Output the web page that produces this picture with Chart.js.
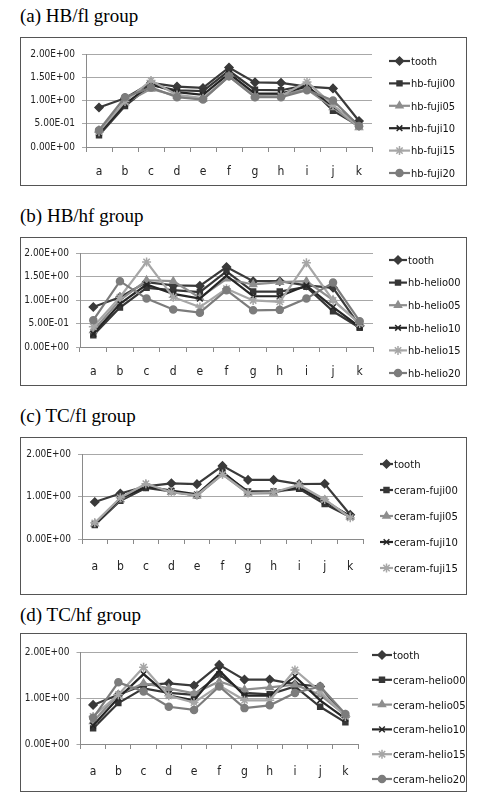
<!DOCTYPE html>
<html>
<head>
<meta charset="utf-8">
<script src="https://cdn.jsdelivr.net/npm/chart.js@4.4.1/dist/chart.umd.min.js"></script>
<style>
  body { margin: 0; background: #fff; width: 480px; height: 801px; position: relative; overflow: hidden; }
  .title { position: absolute; left: 20px; font-family: "Liberation Serif", serif; font-size: 19px; line-height: 19px; color: #000; white-space: nowrap; }
  .box { position: absolute; left: 20px; width: 445px; border: 1px solid #555; background: #fff; }
  .box canvas { display: block; }
</style>
</head>
<body>
<div class="title" style="left:20px;top:6px">(a) HB/fl group</div>
<div class="box" style="top:37px;height:147px"><canvas id="chartA" width="445" height="147"></canvas></div>

<div class="title" style="left:20px;top:206px">(b) HB/hf group</div>
<div class="box" style="top:237px;height:147px"><canvas id="chartB" width="445" height="147"></canvas></div>

<div class="title" style="left:20px;top:406px">(c) TC/fl group</div>
<div class="box" style="top:437px;height:156px"><canvas id="chartC" width="445" height="156"></canvas></div>

<div class="title" style="left:20px;top:605px">(d) TC/hf group</div>
<div class="box" style="top:633px;height:157px"><canvas id="chartD" width="445" height="157"></canvas></div>

<script>
// categories and tick labels
const categories = ['a', 'b', 'c', 'd', 'e', 'f', 'g', 'h', 'i', 'j', 'k'];
const ticksFine = [0, 0.5, 1, 1.5, 2];
const tickLabelsFine = ['0.00E+00', '5.00E-01', '1.00E+00', '1.50E+00', '2.00E+00'];
const ticksCoarse = [0, 1, 2];
const tickLabelsCoarse = ['0.00E+00', '1.00E+00', '2.00E+00'];

// (a) HB/fl group
const namesA = ['tooth', 'hb-fuji00', 'hb-fuji05', 'hb-fuji10', 'hb-fuji15', 'hb-fuji20'];
const toothA   = [0.85, 1.05, 1.38, 1.30, 1.27, 1.71, 1.39, 1.38, 1.30, 1.26, 0.56];
const hbFuji00 = [0.25, 0.88, 1.33, 1.22, 1.20, 1.64, 1.23, 1.22, 1.33, 0.78, 0.45];
const hbFuji05 = [0.36, 0.95, 1.25, 1.10, 1.03, 1.52, 1.10, 1.12, 1.24, 0.85, 0.42];
const hbFuji10 = [0.30, 0.92, 1.35, 1.18, 1.12, 1.58, 1.15, 1.15, 1.30, 0.88, 0.48];
const hbFuji15 = [0.33, 0.98, 1.43, 1.12, 1.05, 1.52, 1.08, 1.10, 1.40, 0.90, 0.44];
const hbFuji20 = [0.36, 1.07, 1.28, 1.07, 1.02, 1.52, 1.07, 1.07, 1.22, 1.00, 0.45];

// (b) HB/hf group
const namesB = ['tooth', 'hb-helio00', 'hb-helio05', 'hb-helio10', 'hb-helio15', 'hb-helio20'];
const toothB    = [0.85, 1.06, 1.38, 1.31, 1.30, 1.70, 1.40, 1.40, 1.31, 1.26, 0.45];
const hbHelio00 = [0.25, 0.84, 1.26, 1.21, 1.17, 1.61, 1.18, 1.18, 1.28, 0.76, 0.41];
const hbHelio05 = [0.35, 1.00, 1.42, 1.40, 1.05, 1.45, 1.33, 1.38, 1.40, 1.00, 0.50];
const hbHelio10 = [0.28, 0.92, 1.33, 1.13, 1.03, 1.52, 1.08, 1.08, 1.31, 0.85, 0.43];
const hbHelio15 = [0.43, 1.06, 1.81, 1.06, 0.85, 1.24, 0.99, 0.96, 1.79, 0.99, 0.50];
const hbHelio20 = [0.57, 1.40, 1.03, 0.80, 0.73, 1.21, 0.78, 0.79, 1.03, 1.37, 0.55];

// (c) TC/fl group
const namesC = ['tooth', 'ceram-fuji00', 'ceram-fuji05', 'ceram-fuji10', 'ceram-fuji15'];
const toothC      = [0.87, 1.07, 1.24, 1.31, 1.29, 1.72, 1.39, 1.39, 1.29, 1.30, 0.57];
const ceramFuji00 = [0.33, 0.90, 1.20, 1.12, 1.02, 1.55, 1.12, 1.12, 1.18, 0.82, 0.52];
const ceramFuji05 = [0.36, 0.93, 1.27, 1.10, 1.02, 1.52, 1.07, 1.08, 1.25, 0.92, 0.52];
const ceramFuji10 = [0.35, 0.95, 1.23, 1.14, 1.05, 1.58, 1.10, 1.11, 1.22, 0.88, 0.54];
const ceramFuji15 = [0.38, 0.97, 1.30, 1.10, 1.03, 1.52, 1.08, 1.10, 1.27, 0.93, 0.50];

// (d) TC/hf group
const namesD = ['tooth', 'ceram-helio00', 'ceram-helio05', 'ceram-helio10', 'ceram-helio15', 'ceram-helio20'];
const toothD       = [0.85, 1.07, 1.28, 1.32, 1.27, 1.72, 1.40, 1.40, 1.30, 1.25, 0.60];
const ceramHelio00 = [0.34, 0.89, 1.21, 1.11, 1.07, 1.51, 1.11, 1.08, 1.25, 0.81, 0.47];
const ceramHelio05 = [0.49, 1.07, 1.32, 1.21, 1.10, 1.36, 1.18, 1.23, 1.29, 1.07, 0.63];
const ceramHelio10 = [0.40, 1.00, 1.52, 1.05, 0.95, 1.60, 1.05, 1.05, 1.47, 0.95, 0.55];
const ceramHelio15 = [0.60, 1.07, 1.67, 1.05, 0.90, 1.27, 0.95, 0.95, 1.61, 1.14, 0.60];
const ceramHelio20 = [0.57, 1.34, 1.14, 0.81, 0.74, 1.25, 0.78, 0.84, 1.11, 1.25, 0.65];

// grey line/marker styles, same order in every panel
const seriesStyles = [
  { color: '#3a3a3a', point: 'rectRot',  radius: 4 },
  { color: '#363636', point: 'rect',     radius: 3.5 },
  { color: '#8e8e8e', point: 'triangle', radius: 4 },
  { color: '#262626', point: 'crossRot', radius: 4 },
  { color: '#a6a6a6', point: 'star',     radius: 4.5 },
  { color: '#7c7c7c', point: 'circle',   radius: 3.5 }
];

const sansCond = "'DejaVu Sans Condensed', 'Liberation Sans', sans-serif";

// legend with a short line + marker in front of each name (Excel style)
const lineLegend = {
  id: 'lineLegend',
  afterDraw(chart, args, opts) {
    const ctx = chart.ctx;
    ctx.save();
    ctx.font = opts.font;
    ctx.textBaseline = 'middle';
    ctx.textAlign = 'left';
    chart.data.datasets.forEach((ds, i) => {
      const y = opts.top + i * opts.gap;
      ctx.strokeStyle = ds.borderColor;
      ctx.fillStyle = ds.backgroundColor;
      ctx.lineWidth = ds.borderWidth;
      ctx.beginPath();
      ctx.moveTo(opts.x, y);
      ctx.lineTo(opts.x + opts.iconWidth, y);
      ctx.stroke();
      ctx.lineWidth = ds.pointBorderWidth;
      Chart.helpers.drawPoint(ctx, { pointStyle: ds.pointStyle, radius: ds.pointRadius, borderWidth: ds.pointBorderWidth, rotation: 0 },
        opts.x + opts.iconWidth / 2, y);
      ctx.fillStyle = '#111';
      ctx.fillText(ds.label, opts.x + opts.iconWidth + 1, y + 1);
    });
    ctx.restore();
  }
};

function drawPanel(id, names, series, tickValues, tickLabels, lay) {
  const datasets = series.map((values, i) => ({
    label: names[i],
    data: values,
    borderColor: seriesStyles[i].color,
    backgroundColor: seriesStyles[i].color,
    pointBackgroundColor: seriesStyles[i].color,
    pointStyle: seriesStyles[i].point,
    pointRadius: seriesStyles[i].radius,
    pointBorderWidth: 1.5,
    borderWidth: 2.2,
    tension: 0,
    order: series.length - i
  }));

  new Chart(document.getElementById(id), {
    type: 'line',
    data: { labels: categories, datasets: datasets },
    options: {
      responsive: false,
      animation: false,
      events: [],
      layout: { padding: { left: 0, right: lay.right, top: lay.top, bottom: 0 } },
      plugins: {
        legend: { display: false },
        tooltip: { enabled: false },
        lineLegend: lay.legend
      },
      scales: {
        x: {
          offset: true,
          grid: { offset: true, drawOnChartArea: false, tickLength: 5, color: '#8a8a8a' },
          border: { color: '#8a8a8a' },
          ticks: { padding: lay.xPad, color: '#222', font: { family: sansCond, size: 12 }, maxRotation: 0 },
          afterFit: s => { s.height = lay.xHeight; }
        },
        y: {
          min: 0,
          max: 2,
          afterBuildTicks: s => { s.ticks = tickValues.map(v => ({ value: v })); },
          ticks: { callback: (v, i) => tickLabels[i], padding: 7, color: '#222', font: { family: sansCond, size: 10 } },
          grid: { color: '#a8a8a8', tickLength: 4 },
          border: { color: '#8a8a8a' },
          afterFit: s => { s.width = lay.yWidth; }
        }
      }
    },
    plugins: [lineLegend]
  });
}

drawPanel('chartA', namesA, [toothA, hbFuji00, hbFuji05, hbFuji10, hbFuji15, hbFuji20], ticksFine, tickLabelsFine,
  { yWidth: 65, right: 94, top: 16, xHeight: 38, xPad: 13,
    legend: { x: 368, iconWidth: 21, top: 23, gap: 22.4, font: "11px " + sansCond } });

drawPanel('chartB', namesB, [toothB, hbHelio00, hbHelio05, hbHelio10, hbHelio15, hbHelio20], ticksFine, tickLabelsFine,
  { yWidth: 59, right: 93, top: 15, xHeight: 38, xPad: 13,
    legend: { x: 368, iconWidth: 18, top: 22, gap: 22.6, font: "11px " + sansCond } });

drawPanel('chartC', namesC, [toothC, ceramFuji00, ceramFuji05, ceramFuji10, ceramFuji15], ticksCoarse, tickLabelsCoarse,
  { yWidth: 61, right: 103, top: 16, xHeight: 55, xPad: 16,
    legend: { x: 359, iconWidth: 13, top: 26, gap: 26, font: "11.2px " + sansCond } });

drawPanel('chartD', namesD, [toothD, ceramHelio00, ceramHelio05, ceramHelio10, ceramHelio15, ceramHelio20], ticksCoarse, tickLabelsCoarse,
  { yWidth: 59.5, right: 108, top: 18, xHeight: 47, xPad: 16,
    legend: { x: 351, iconWidth: 20, top: 21, gap: 24.8, font: "11.2px " + sansCond } });
</script>
</body>
</html>
